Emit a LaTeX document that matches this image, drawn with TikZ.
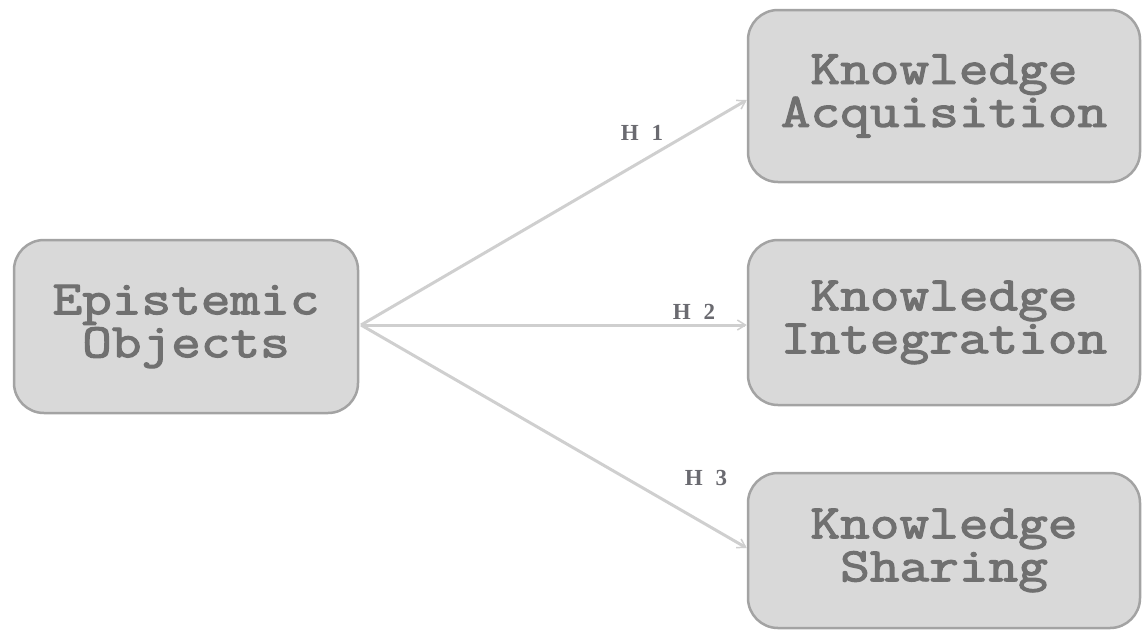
\documentclass[tikz,border=0pt]{standalone}
\usepackage{fontspec}
\newfontfamily\labfont[LetterSpace=55]{Liberation Serif}
\newfontfamily\boxfont[FakeBold=2.5,FakeStretch=1.2]{Latin Modern Mono}
\usetikzlibrary{arrows.meta}
\definecolor{boxfill}{HTML}{D9D9D9}
\definecolor{boxline}{HTML}{A3A3A3}
\definecolor{txt}{HTML}{707070}
\definecolor{arr}{HTML}{CFCFCF}
\definecolor{lab}{HTML}{6A6A70}
\begin{document}
\begin{tikzpicture}[x=1pt,y=-1pt,
  box/.style={draw=boxline, line width=2.5pt, fill=boxfill, rounded corners=30pt,
    text=txt, font=\fontsize{48}{43}\selectfont\boxfont, align=center,
    inner sep=0pt},
  conn/.style={draw=arr, line width=3pt, -{Straight Barb[length=8pt,width=10pt,line width=1.5pt]}},
  hlab/.style={text=lab, font=\fontsize{23}{23}\selectfont\labfont\bfseries, inner sep=0pt}]
\useasboundingbox (0,0) rectangle (1148,630);
\node[box, minimum width=344pt, minimum height=173pt] (eo) at (186,326.5) {Epistemic\\Objects};
\node[box, minimum width=392pt, minimum height=172pt] (ka) at (944,96) {Knowledge\\Acquisition};
\node[box, minimum width=392pt, minimum height=165pt] (ki) at (944,322.5) {Knowledge\\Integration};
\node[box, minimum width=392pt, minimum height=155pt] (ks) at (944,550.5) {Knowledge\\Sharing};
\coordinate (src) at (361,325);
\draw[conn] (src) -- (ka.west |- 0,100);
\draw[conn] (src) -- (ki.west |- 0,325);
\draw[conn] (src) -- (ks.west |- 0,548);
\node[hlab] (h1) at (642,133) {H1};
\node[hlab] (h2) at (694,312) {H2};
\node[hlab] (h3) at (706,478) {H3};
\end{tikzpicture}
\end{document}
